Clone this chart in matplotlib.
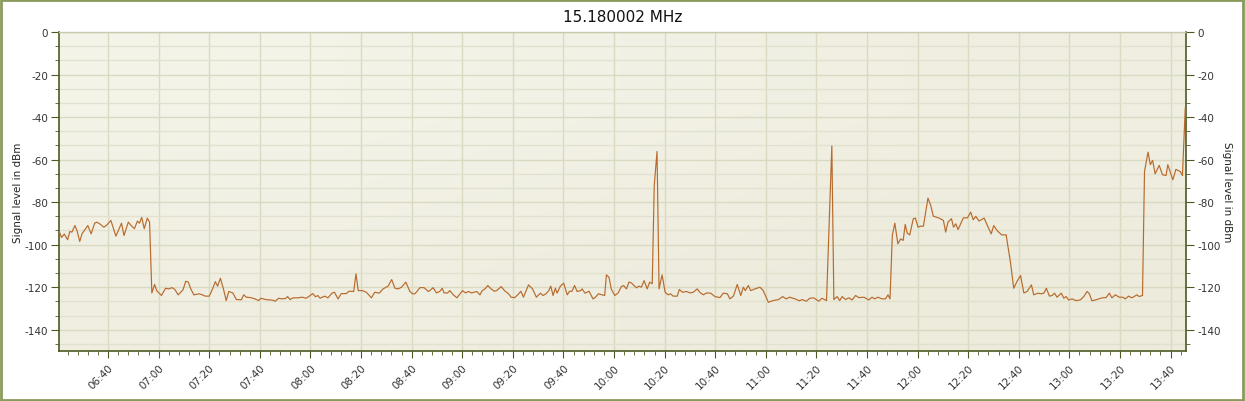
import matplotlib
matplotlib.use("Agg")
import matplotlib.pyplot as plt
import matplotlib.dates as mdates
import numpy as np
from matplotlib.ticker import MultipleLocator
from matplotlib.patches import Rectangle
from matplotlib.colors import LinearSegmentedColormap

plt.rcParams["axes.unicode_minus"] = False

title = "15.180002 MHz"
ylabel = "Signal level in dBm"

# sample times, minutes after 06:00
minutes_after_0600 = [
    20.7, 21.6, 22.7, 24.0, 24.9, 25.7, 26.9, 27.7, 28.8, 29.7, 32.0, 33.3, 34.7, 35.5, 36.7, 38.3, 39.3, 41.1, 43.1, 45.3,
    46.3, 48.0, 48.9, 50.4, 51.6, 52.4, 53.3, 54.3, 55.5, 56.4, 57.3, 58.4, 59.2, 61.1, 62.7, 64.0, 65.3, 66.4, 67.7, 69.6,
    70.7, 71.7, 72.7, 73.9, 76.0, 77.3, 78.4, 80.0, 81.3, 82.4, 83.3, 84.4, 85.6, 86.7, 87.7, 89.3, 90.7, 92.7, 93.6, 94.7,
    96.4, 98.1, 99.5, 100.4, 102.4, 105.0, 106.1, 107.4, 108.7, 110.1, 111.0, 111.9, 113.2, 115.0, 116.7, 118.3, 119.9,
    120.9, 122.0, 122.9, 123.8, 125.6, 126.9, 128.6, 129.5, 130.9, 132.2, 134.2, 135.2, 137.1, 138.0, 138.9, 140.5, 142.1,
    144.1, 145.4, 147.2, 148.7, 150.7, 152.1, 153.4, 154.7, 156.0, 157.7, 159.3, 160.4, 161.3, 163.3, 164.9, 166.6,
    167.2, 168.5, 169.8, 171.1, 172.1, 172.8, 174.2, 175.1, 176.4, 177.9, 179.1, 180.1, 181.3, 182.4, 183.7, 185.7, 187.0,
    187.9, 189.0, 190.1, 191.4, 192.7, 193.6, 195.4, 196.7, 198.3, 199.3, 200.7, 202.0, 203.2, 204.2, 206.2, 207.8, 209.3,
    210.9, 211.9, 213.1, 214.2, 215.0, 215.9, 216.8, 217.5, 218.8, 220.1, 221.5, 222.4, 223.4, 224.4, 225.4, 226.8, 227.4,
    228.5, 230.1, 231.7, 232.7, 233.8, 235.1, 236.3,
    237.0, 238.0, 238.9, 240.3, 241.6, 242.9, 243.8, 244.9, 245.9, 246.9, 247.9, 248.9, 249.9, 250.8, 251.9, 253.1, 254.1,
    255.1, 255.9, 257.0, 257.8, 259.0, 260.2, 261.4, 262.3, 263.4, 265.0, 265.8, 267.1, 268.7, 270.0, 271.3, 272.9, 273.9,
    275.3, 276.6, 278.2, 279.9, 281.9, 283.2, 284.8, 285.8, 287.2, 288.7, 290.1, 291.1, 291.9, 293.1, 294.0, 295.7, 297.7,
    299.0, 301.0, 302.8, 305.0, 306.7, 308.0, 309.4, 311.6, 313.3,
    314.3, 316.0, 317.4, 318.9, 320.9, 322.2, 324.0, 326.1, 326.9, 328.2, 329.2, 330.2, 331.5, 332.8, 334.1, 335.5, 336.8,
    338.8, 340.7, 342.0, 343.0, 344.3, 346.0, 347.3, 348.3, 349.1, 350.0, 351.0, 352.2, 353.3, 354.3, 355.1, 355.9, 356.9,
    358.3, 359.1, 360.2, 361.2, 362.3, 364.1, 365.2, 366.2, 368.5, 370.2, 371.1, 372.0, 373.4, 374.2, 375.1, 376.0, 378.1,
    379.7, 381.0, 382.0, 383.0, 384.3, 386.3, 387.6,
    389.1, 390.1, 391.4, 393.2, 395.0, 396.7, 398.0, 399.3, 400.7, 402.0, 403.3, 405.0, 405.9, 407.6, 408.9, 409.9, 410.9,
    412.1, 413.2, 414.1, 415.1, 416.8, 417.8, 418.7, 419.7, 421.1, 422.6, 424.3, 425.7, 427.0, 427.9, 428.9, 430.9, 432.9,
    434.5, 435.8, 436.8, 438.2, 439.7, 441.1, 442.1, 443.4, 444.7, 446.7, 447.6, 448.9, 449.7, 451.1, 452.0, 452.9, 453.9,
    455.5, 456.8, 458.2, 458.9, 459.9, 460.9, 462.1, 463.8, 464.7, 465.8,
]

level_dbm = [
    -93.8, -96.6, -95.0, -97.7, -93.8, -94.1, -91.0, -93.3, -98.5, -94.9, -91.0, -94.9, -89.9, -89.4, -90.2, -91.8, -91.0, -88.6, -96.0, -89.9,
    -95.7, -89.4, -90.7, -92.5, -88.9, -89.9, -87.2, -92.5, -87.5, -89.4, -122.7, -118.7, -121.6, -123.9, -120.5, -120.8, -120.2, -121.1, -123.6, -121.3,
    -117.2, -117.6, -120.8, -123.6, -123.1, -123.6, -124.2, -124.2, -120.8, -117.4, -119.5, -115.8, -120.8, -126.3, -122.0, -122.7, -125.8, -125.9, -123.6, -124.7,
    -124.9, -125.5, -126.3, -125.2, -125.8, -126.1, -126.6, -125.2, -125.5, -125.3, -124.4, -125.8, -125.0, -125.0, -124.7, -125.2, -123.9,
    -123.0, -124.5, -123.9, -125.2, -124.2, -125.0, -122.7, -122.4, -125.5, -123.0, -123.0, -121.9, -122.0, -113.7, -121.6, -121.6, -122.4,
    -125.0, -122.4, -122.8, -120.8, -119.5, -116.4, -120.5, -120.8, -120.0, -117.6, -122.0, -123.1, -123.1, -120.2, -120.2, -122.0,
    -121.6, -120.2, -122.7, -122.0, -120.5, -122.7, -122.7, -121.6, -123.5, -125.0, -123.1, -121.6, -122.7, -122.0, -122.7, -122.0, -123.6,
    -121.6, -120.8, -119.2, -120.8, -121.9, -121.6, -119.7, -121.6, -123.1, -124.7, -124.9, -123.5, -121.9, -124.7, -118.9, -120.8, -124.7,
    -122.8, -123.9, -123.1, -121.6, -119.5, -123.9, -120.5, -122.8, -119.5, -118.1, -123.6, -121.9, -121.9, -119.2, -122.0, -121.6, -120.8,
    -122.8, -121.9, -125.5, -124.7, -123.1, -123.5, -123.9,
    -114.2, -115.3, -120.8, -123.9, -122.7, -119.7, -119.2, -120.8, -117.6, -118.0, -119.2, -120.3, -119.5, -120.0, -116.9, -120.8, -117.6,
    -118.4, -72.2, -56.2, -120.8, -114.2, -122.4, -123.6, -123.1, -124.2, -124.2, -121.1, -122.4, -122.0, -122.7, -122.4, -120.8, -122.4,
    -123.6, -122.7, -122.8, -124.4, -124.9, -122.8, -123.1, -125.5, -124.2, -118.7, -123.9, -120.0, -121.6, -119.2, -121.6, -120.8, -120.0,
    -121.6, -127.1, -126.3, -125.8, -124.4, -125.5, -124.7, -125.5, -126.4,
    -125.8, -126.6, -125.2, -125.0, -126.6, -125.2, -126.3, -53.6, -125.8, -124.4, -126.3, -124.4, -125.8, -125.0, -126.0, -123.9, -124.9,
    -124.7, -126.0, -124.7, -125.5, -124.7, -125.5, -125.5, -123.6, -125.5, -95.7, -89.9, -99.6, -97.3, -98.0, -90.5, -94.6, -95.4,
    -87.8, -87.5, -91.8, -91.3, -91.3, -78.1, -81.6, -86.6, -87.5, -88.6, -94.1, -89.4, -87.8, -91.8, -90.2, -92.9, -87.4,
    -87.4, -84.7, -88.3, -86.7, -88.9, -87.5, -91.0,
    -94.9, -91.0, -93.3, -95.4, -95.4, -108.2, -120.5, -117.3, -114.5, -122.7, -122.0, -118.9, -123.6, -122.8, -123.1, -122.8, -120.5,
    -124.2, -123.9, -122.8, -124.7, -122.8, -125.2, -124.4, -126.0, -125.5, -126.3, -126.0, -124.4, -122.0, -123.1, -126.4, -125.8, -125.0,
    -124.9, -122.8, -125.0, -123.6, -124.7, -124.7, -125.5, -124.2, -125.0, -123.6, -124.4, -123.9, -65.6, -56.5, -62.4, -60.4, -66.7,
    -62.7, -67.1, -67.5, -62.4, -65.9, -69.5, -64.6, -65.6, -67.5, -35.8,
]

x_start_min = 20.6
x_end_min = 466.1
y_range = (-150, 0)

base = np.datetime64("2000-01-01T06:00:00")
def to_time(m):
    return base + (np.asarray(m) * 60000).astype("timedelta64[ms]")

times = to_time(minutes_after_0600)

W, H = 1245, 402
fig = plt.figure(figsize=(W / 100, H / 100), dpi=100)
fig.patch.set_facecolor("white")
fig.patches.append(Rectangle((0.001, 0.002), 0.997, 0.995, transform=fig.transFigure,
                             fill=False, edgecolor="#8a9a5b", linewidth=2.0))

L, R, T, B = 59, 1186, 33, 352
ax = fig.add_axes([L / W, 1 - B / H, (R - L) / W, (B - T) / H])

# gradient background
grad = np.array([[0.0, 0.5], [0.5, 1.0]])
cmap = LinearSegmentedColormap.from_list("bg", ["#f4f3e8", "#ecebdc"])
ax.imshow(grad, cmap=cmap, extent=[0, 1, 0, 1], transform=ax.transAxes,
          aspect="auto", interpolation="bilinear", zorder=0)

ax.plot(times, level_dbm, color="#b86a2c", lw=0.85, zorder=3)
ax.set_xlim(to_time(x_start_min), to_time(x_end_min))
ax.set_ylim(*y_range)

ax.xaxis.set_major_locator(mdates.MinuteLocator(byminute=[0, 20, 40]))
ax.xaxis.set_minor_locator(mdates.MinuteLocator(byminute=list(range(0, 60, 4))))
ax.xaxis.set_major_formatter(mdates.DateFormatter("%H:%M"))
ax.yaxis.set_major_locator(MultipleLocator(20))
ax.yaxis.set_minor_locator(MultipleLocator(20 / 3))

ax.grid(which="major", color="#dadac2", lw=1.0, zorder=1)
ax.grid(which="minor", axis="y", color="#e2e1cf", lw=1.0, zorder=1)

spine_c = "#4b5a22"
for s in ["left", "bottom", "right"]:
    ax.spines[s].set_color(spine_c)
    ax.spines[s].set_linewidth(1.2)
ax.spines["top"].set_color("#c9c9ad")
ax.spines["top"].set_linewidth(1.0)

fs = 7.5
ax.tick_params(axis="both", which="major", direction="out", color=spine_c, labelsize=fs,
               labelcolor="#333333")
ax.tick_params(axis="y", which="major", length=6, pad=2)
ax.tick_params(axis="y", which="minor", length=3, color=spine_c)
ax.tick_params(axis="x", which="major", length=5, pad=3)
ax.tick_params(axis="x", which="minor", length=3, color=spine_c)

for lbl in ax.get_xticklabels():
    lbl.set_rotation(45)
    lbl.set_ha("right")
    lbl.set_va("top")
    lbl.set_rotation_mode("anchor")

ax2 = ax.twinx()
ax2.set_ylim(*y_range)
ax2.yaxis.set_major_locator(MultipleLocator(20))
ax2.yaxis.set_minor_locator(MultipleLocator(20 / 3))
ax2.patch.set_visible(False)
for s in ax2.spines.values():
    s.set_visible(False)
ax2.tick_params(axis="y", which="major", direction="out", length=6, pad=2, color=spine_c,
                labelsize=fs, labelcolor="#333333")
ax2.tick_params(axis="y", which="minor", direction="out", length=3, color=spine_c)

cy = 1 - ((T + B) / 2) / H
fig.text(18 / W, cy, ylabel, rotation=90, ha="center", va="center", fontsize=7.5, color="#222222")
fig.text(1227 / W, cy, ylabel, rotation=270, ha="center", va="center", fontsize=7.5, color="#222222")
fig.text(0.5, 1 - 17 / H, title, ha="center", va="center", fontsize=11, color="#111111")

fig.savefig("out.png", dpi=100, facecolor="white")
